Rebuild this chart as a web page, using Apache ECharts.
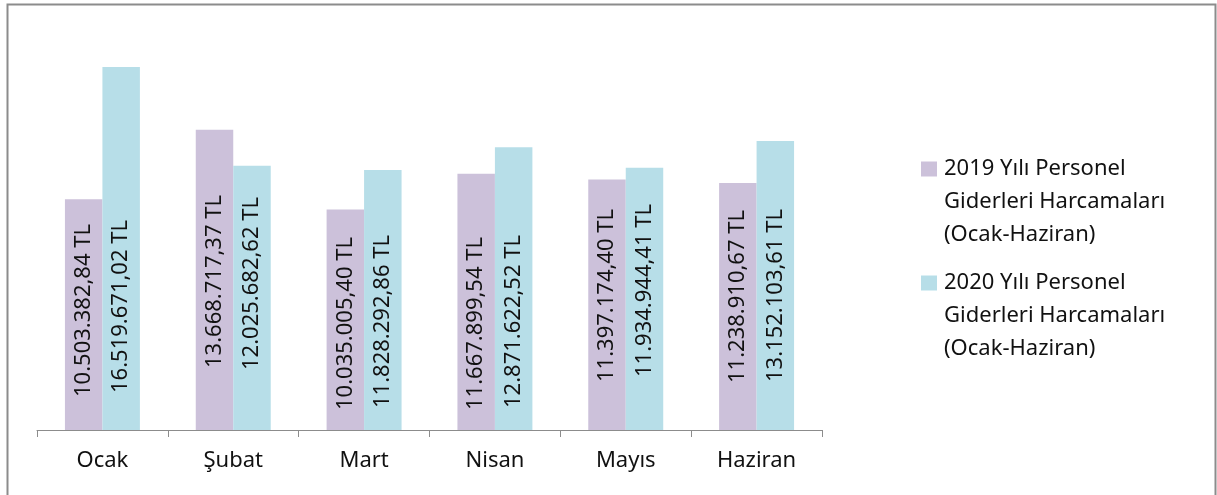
<!DOCTYPE html>
<html>
<head>
<meta charset="utf-8">
<title>Personel Giderleri</title>
<script src="https://cdn.jsdelivr.net/npm/echarts@6/dist/echarts.min.js"></script>
<style>
  html, body { margin: 0; padding: 0; background: #fff; }
  #main { width: 1217px; height: 495px; }
</style>
</head>
<body>
<div id="main"></div>
<script>
// aylar
const months = ['Ocak', 'Şubat', 'Mart', 'Nisan', 'Mayıs', 'Haziran']
const seriesNames = [
  '2019 Yılı Personel Giderleri Harcamaları (Ocak-Haziran)',
  '2020 Yılı Personel Giderleri Harcamaları (Ocak-Haziran)',
]
const values2019 = [10503382.84, 13668717.37, 10035005.40, 11667899.54, 11397174.40, 11238910.67]
const values2020 = [16519671.02, 12025682.62, 11828292.86, 12871622.52, 11934944.41, 13152103.61]

// etiketlerin bar tabanından uzaklığı (px)
const labelLift2019 = [33, 62, 20, 20, 48, 47]
const labelLift2020 = [37, 60, 22, 22, 53, 48]

const FONT = '"Noto Sans", "Open Sans", sans-serif'
const LINE_H = 33

// 10503382.84 -> "10.503.382,84 TL"
const trMoney = (v) => {
  const parts = v.toFixed(2).split('.')
  const intPart = parts[0].replace(/\B(?=(\d{3})+(?!\d))/g, '.')
  return intPart + ',' + parts[1] + ' TL'
}

const makeData = (values, lifts) =>
  values.map((v, i) => ({
    value: v,
    label: { distance: lifts[i] },
  }))

const barLabel = {
  show: true,
  position: 'insideBottom',
  rotate: 90,
  align: 'left',
  verticalAlign: 'middle',
  color: '#111',
  fontFamily: FONT,
  fontSize: 22,
  formatter: (p) => trMoney(p.value),
}

const chart = echarts.init(document.getElementById('main'))
chart.setOption({
  animation: false,
  backgroundColor: '#fff',
  graphic: [
    {
      type: 'rect',
      shape: { x: 7.5, y: 4.5, width: 1208, height: 500 },
      style: { fill: 'none', stroke: '#8c8c8c', lineWidth: 2 },
      silent: true,
    },
  ],
  grid: { left: 37, right: 395, top: 34.5, bottom: 65 },
  legend: {
    orient: 'vertical',
    left: 921,
    top: 86.5,
    padding: 0,
    itemGap: -51,
    itemWidth: 16,
    itemHeight: 15,
    icon: 'rect',
    selectedMode: false,
    data: seriesNames,
    // ikon ilk satırla hizalansın diye başa iki boş satır
    formatter: (name) =>
      '\n\n' + name.replace(' Personel ', ' Personel\n').replace(' (', '\n('),
    textStyle: {
      fontFamily: FONT,
      fontSize: 22,
      color: '#111',
      lineHeight: LINE_H,
      padding: [0, 0, 0, 2],
    },
  },
  xAxis: {
    type: 'category',
    data: months,
    axisLine: { lineStyle: { color: '#8c8c8c', width: 1 } },
    axisTick: { show: true, length: 7, lineStyle: { color: '#8c8c8c' } },
    axisLabel: {
      color: '#111',
      fontFamily: FONT,
      fontSize: 22,
      margin: 20,
    },
  },
  yAxis: {
    type: 'value',
    min: 0,
    max: 18000000,
    show: false,
    splitLine: { show: false },
  },
  series: [
    {
      name: seriesNames[0],
      type: 'bar',
      data: makeData(values2019, labelLift2019),
      itemStyle: { color: '#ccc1da' },
      barGap: '0%',
      barCategoryGap: '42.7%',
      label: barLabel,
    },
    {
      name: seriesNames[1],
      type: 'bar',
      data: makeData(values2020, labelLift2020),
      itemStyle: { color: '#b7dee8' },
      barGap: '0%',
      barCategoryGap: '42.7%',
      label: barLabel,
    },
  ],
})
</script>
</body>
</html>
